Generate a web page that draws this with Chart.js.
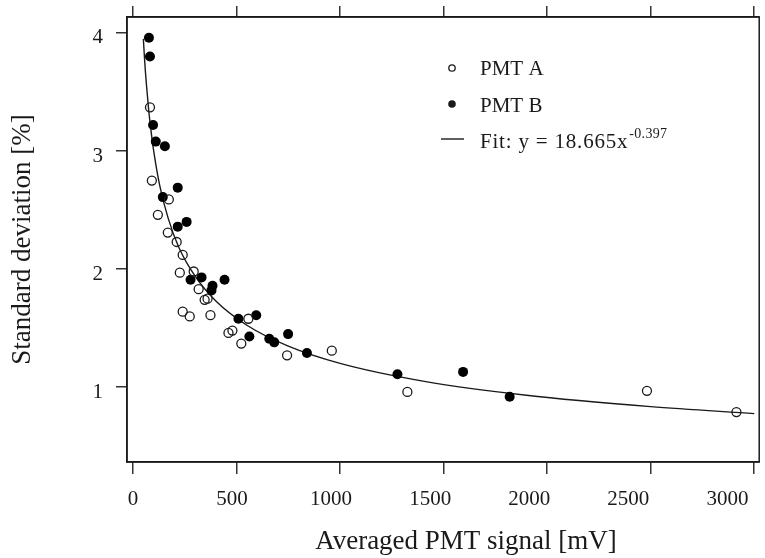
<!DOCTYPE html>
<html>
<head>
<meta charset="utf-8">
<script src="https://cdn.jsdelivr.net/npm/chart.js@4.4.1/dist/chart.umd.min.js"></script>
<style>
  html, body { margin: 0; padding: 0; background: #fff; }
  canvas { display: block; }
</style>
</head>
<body>
<canvas id="chart" width="765" height="558"></canvas>
<script>
// Données
const pmtAx = [82, 91, 120, 173, 168, 211, 240, 226, 293, 317, 346, 360, 240, 274, 374, 557, 461, 480, 523, 744, 960, 1325, 2482, 2914];
const pmtAy = [3.37, 2.75, 2.46, 2.59, 2.31, 2.23, 2.12, 1.97, 1.98, 1.83, 1.74, 1.75, 1.64, 1.60, 1.61, 1.58, 1.46, 1.48, 1.37, 1.27, 1.31, 0.96, 0.97, 0.79];

const pmtBx = [77, 82, 97, 110, 154, 216, 144, 216, 259, 278, 331, 384, 379, 442, 509, 595, 562, 658, 682, 749, 840, 1277, 1594, 1819];
const pmtBy = [3.96, 3.80, 3.22, 3.08, 3.04, 2.69, 2.61, 2.36, 2.40, 1.91, 1.93, 1.86, 1.82, 1.91, 1.58, 1.61, 1.43, 1.41, 1.38, 1.45, 1.29, 1.11, 1.13, 0.92];

// Courbe d'ajustement (y = 18.665x^-0.397), valeurs relevées
const fitX = [50, 55, 60, 65, 75, 85, 100, 130, 170, 220, 300, 400, 550, 750, 1000, 1400, 1900, 2500, 3000];
const fitY = [3.95, 3.80, 3.67, 3.56, 3.36, 3.20, 3.00, 2.70, 2.43, 2.19, 1.94, 1.73, 1.525, 1.348, 1.202, 1.052, 0.932, 0.836, 0.777];

const xTicks = [0, 500, 1000, 1500, 2000, 2500, 3000];
const yTicks = [1, 2, 3, 4];

const legendLabels = ['PMT A', 'PMT B', 'Fit: y = 18.665x'];
const fitExponent = '-0.397';
const xTitle = 'Averaged PMT signal [mV]';
const yTitle = 'Standard deviation [%]';

const FONT = "'Liberation Serif', 'DejaVu Serif', serif";
const INK = '#1a1a1a';

const toPoints = (xs, ys) => xs.map((x, i) => ({ x: x, y: ys[i] }));

// Pas de marge automatique pour les libellés : la zone de tracé est fixée
const noPadding = s => {
    s.paddingLeft = 0;
    s.paddingRight = 0;
    s.paddingTop = 0;
    s.paddingBottom = 0;
};
const setTicks = values => s => { s.ticks = values.map(v => ({ value: v })); };

// Cadre autour de la zone de tracé
const framePlugin = {
    id: 'frame',
    beforeDatasetsDraw(chart) {
        const { ctx, chartArea: a } = chart;
        ctx.save();
        ctx.strokeStyle = INK;
        ctx.lineWidth = 1.5;
        ctx.strokeRect(a.left, a.top, a.width, a.height);
        ctx.restore();
    }
};

// Légende dessinée dans la zone de tracé + titre de l'axe X
const legendPlugin = {
    id: 'insideLegend',
    afterDraw(chart) {
        const { ctx, chartArea: a } = chart;
        const symX = a.left + 325;
        const textX = a.left + 353;
        const rows = [a.top + 52, a.top + 89, a.top + 125];

        ctx.save();
        ctx.fillStyle = INK;
        ctx.strokeStyle = INK;

        // PMT A : cercle vide
        ctx.lineWidth = 1.3;
        ctx.beginPath();
        ctx.arc(symX, rows[0] - 1, 3.2, 0, Math.PI * 2);
        ctx.stroke();

        // PMT B : cercle plein
        ctx.beginPath();
        ctx.arc(symX, rows[1] - 2, 3.8, 0, Math.PI * 2);
        ctx.fill();

        // Fit : trait
        ctx.lineWidth = 1.4;
        ctx.beginPath();
        ctx.moveTo(symX - 11, rows[2] - 3);
        ctx.lineTo(symX + 12, rows[2] - 3);
        ctx.stroke();

        ctx.font = '21px ' + FONT;
        ctx.textBaseline = 'middle';
        ctx.textAlign = 'left';
        ctx.fillText(legendLabels[0], textX, rows[0]);
        ctx.fillText(legendLabels[1], textX, rows[1]);
        ctx.letterSpacing = '0.8px';
        ctx.fillText(legendLabels[2], textX, rows[2]);
        const w = ctx.measureText(legendLabels[2]).width;
        ctx.font = '14px ' + FONT;
        ctx.letterSpacing = '0.3px';
        ctx.fillText(fitExponent, textX + w + 1, rows[2] - 8);
        ctx.letterSpacing = '0px';

        // Titre axe X
        ctx.font = '27px ' + FONT;
        ctx.textAlign = 'center';
        ctx.textBaseline = 'middle';
        ctx.fillText(xTitle, a.left + 339, 542);
        ctx.restore();
    }
};

const tickFont = { family: FONT, size: 21 };

new Chart(document.getElementById('chart'), {
    type: 'scatter',
    data: {
        datasets: [
            {
                label: legendLabels[0],
                data: toPoints(pmtAx, pmtAy),
                pointRadius: 4.5,
                pointBorderWidth: 1.3,
                pointBackgroundColor: 'rgba(0,0,0,0)',
                pointBorderColor: INK,
                showLine: false
            },
            {
                label: legendLabels[1],
                data: toPoints(pmtBx, pmtBy),
                pointRadius: 5,
                pointBorderWidth: 0,
                pointBackgroundColor: '#000',
                pointBorderColor: '#000',
                showLine: false
            },
            {
                label: 'Fit',
                data: toPoints(fitX, fitY),
                showLine: true,
                pointRadius: 0,
                borderColor: INK,
                borderWidth: 1.4,
                cubicInterpolationMode: 'monotone',
                fill: false
            }
        ]
    },
    options: {
        responsive: false,
        animation: false,
        layout: { padding: { left: 0, right: 2, top: 0, bottom: 0 } },
        scales: {
            // axe principal : graduations seules
            x: {
                type: 'linear',
                position: 'bottom',
                weight: 0,
                min: -29,
                max: 3024,
                afterBuildTicks: setTicks(xTicks),
                afterFit: s => { s.height = 14; noPadding(s); },
                grid: { drawOnChartArea: false, tickLength: 12, color: '#333', lineWidth: 1.5 },
                border: { display: true, color: INK, width: 1.5 },
                ticks: { display: false }
            },
            // libellés de l'axe X (légèrement resserrés comme sur la figure)
            xLabels: {
                type: 'linear',
                position: 'bottom',
                weight: 1,
                min: -30.1,
                max: 3160.5,
                afterBuildTicks: setTicks(xTicks),
                afterFit: s => { s.height = 82; noPadding(s); },
                grid: { display: false, drawTicks: false, drawOnChartArea: false },
                border: { display: false },
                ticks: {
                    padding: 11,
                    color: INK,
                    font: tickFont,
                    maxRotation: 0,
                    autoSkip: false,
                    callback: v => String(v)
                }
            },
            xTop: {
                type: 'linear',
                position: 'top',
                min: -29,
                max: 3024,
                afterBuildTicks: setTicks(xTicks),
                afterFit: s => { s.height = 17; noPadding(s); },
                grid: { drawOnChartArea: false, tickLength: 11, color: '#333', lineWidth: 1.5 },
                border: { display: true, color: INK, width: 1.5 },
                ticks: { display: false }
            },
            y: {
                type: 'linear',
                position: 'left',
                min: 0.367,
                max: 4.135,
                afterBuildTicks: setTicks(yTicks),
                afterFit: s => { s.width = 127; noPadding(s); },
                grid: { drawOnChartArea: false, tickLength: 11, color: '#333', lineWidth: 1.5 },
                border: { display: true, color: INK, width: 1.5 },
                ticks: {
                    padding: 13,
                    labelOffset: 5,
                    color: INK,
                    font: tickFont,
                    callback: v => String(v)
                },
                title: {
                    display: true,
                    text: yTitle,
                    color: INK,
                    font: { family: FONT, size: 27 },
                    padding: { top: 7, bottom: 0 }
                }
            }
        },
        plugins: {
            legend: { display: false },
            tooltip: { enabled: false }
        }
    },
    plugins: [framePlugin, legendPlugin]
});
</script>
</body>
</html>
